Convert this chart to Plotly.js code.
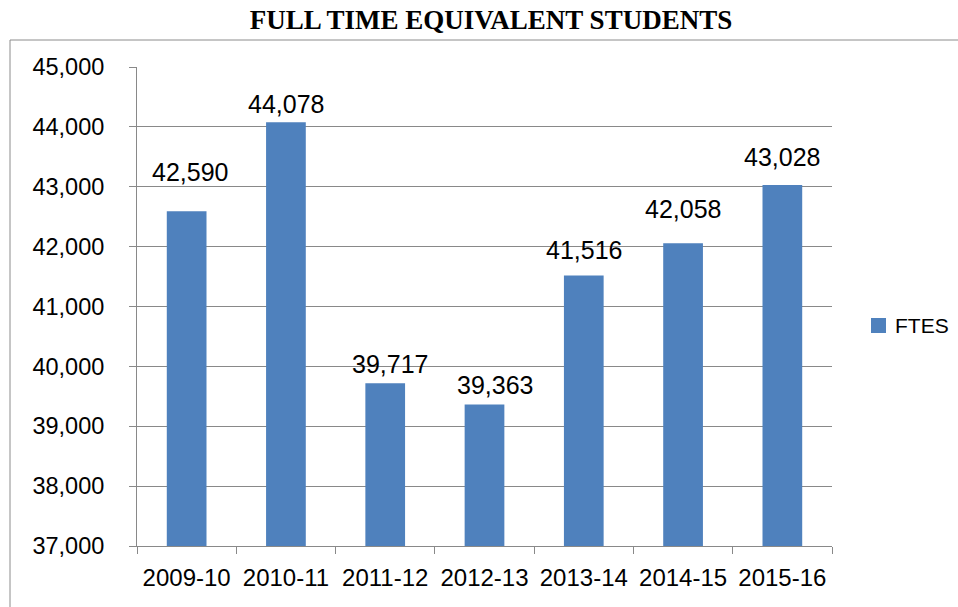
<!DOCTYPE html>
<html>
<head>
<meta charset="utf-8">
<script src="https://cdn.plot.ly/plotly-3.0.1.min.js"></script>
<style>
  html, body { margin: 0; padding: 0; background: #ffffff; }
  #chart { width: 958px; height: 607px; }
</style>
</head>
<body>
<div id="chart"></div>
<script>
// ---- data ----
const years = ["2009-10", "2010-11", "2011-12", "2012-13", "2013-14", "2014-15", "2015-16"];
const ftes = [42590, 44078, 39717, 39363, 41516, 42058, 43028];
const seriesName = "FTES";
const chartTitle = "FULL TIME EQUIVALENT STUDENTS";
const yTickValues = [37000, 38000, 39000, 40000, 41000, 42000, 43000, 44000, 45000];

// ---- styling / layout ----
const barColor = "#4F81BD";
const gridColor = "#898989";
const sansFont = "Liberation Sans, Arial, sans-serif";
const labelYShift = [25, 4, 5, 6, 12, 20, 14];
const labelXShift = [3, 0, 5, 10, 0, 0, 0];

// plot-area geometry in pixels (for converting to paper coordinates)
const PL = 137, PR = 832, PT = 67, PB = 546;
const px = v => (v - PL) / (PR - PL);
const py = v => (PB - v) / (PB - PT);

const fmt = v => v.toLocaleString("en-US");

const trace = {
  type: "bar",
  x: years,
  y: ftes,
  name: seriesName,
  marker: { color: barColor, line: { width: 0 } },
  hoverinfo: "x+y",
  showlegend: false
};

const annotations = years.map((yr, i) => ({
  x: yr,
  y: ftes[i],
  xref: "x",
  yref: "y",
  text: fmt(ftes[i]),
  showarrow: false,
  xanchor: "center",
  yanchor: "bottom",
  yshift: labelYShift[i] - 2,
  xshift: labelXShift[i],
  font: { family: sansFont, size: 25, color: "#000000" }
}));

// legend entry (series name) drawn as text next to a colour swatch
annotations.push({
  xref: "paper",
  yref: "paper",
  x: px(893),
  y: py(325),
  xanchor: "left",
  yanchor: "middle",
  text: seriesName,
  showarrow: false,
  font: { family: sansFont, size: 21, color: "#000000" }
});

const layout = {
  width: 958,
  height: 607,
  paper_bgcolor: "#ffffff",
  plot_bgcolor: "#ffffff",
  margin: { l: PL, r: 958 - PR, t: PT, b: 607 - PB, pad: 0 },
  title: {
    text: "<b>" + chartTitle + "</b>",
    font: { family: "Liberation Serif, Times New Roman, serif", size: 27, color: "#000000" },
    x: 0.5125,
    xanchor: "center",
    y: 1 - 20 / 607,
    yanchor: "middle"
  },
  bargap: 0.6,
  showlegend: false,
  xaxis: {
    type: "category",
    automargin: false,
    tickangle: 0,
    showgrid: false,
    showline: true,
    linecolor: gridColor,
    linewidth: 1,
    ticks: "outside",
    tickson: "boundaries",
    ticklen: 7,
    tickcolor: gridColor,
    tickwidth: 1,
    ticklabelstandoff: 10,
    tickfont: { family: sansFont, size: 24, color: "#000000" },
    fixedrange: true
  },
  yaxis: {
    range: [37000, 45000],
    automargin: false,
    tickvals: yTickValues,
    ticktext: yTickValues.map(fmt),
    showgrid: true,
    gridcolor: gridColor,
    gridwidth: 1,
    zeroline: false,
    showline: true,
    linecolor: gridColor,
    linewidth: 1,
    ticks: "outside",
    ticklen: 7,
    tickcolor: gridColor,
    tickwidth: 1,
    ticklabelstandoff: 20,
    tickfont: { family: sansFont, size: 23.5, color: "#000000" },
    fixedrange: true
  },
  annotations: annotations,
  shapes: [
    {
      type: "rect",
      xref: "paper",
      yref: "paper",
      x0: px(10),
      x1: px(965),
      y0: py(615),
      y1: py(40),
      line: { color: "#8c8c8c", width: 1 },
      fillcolor: "rgba(0,0,0,0)",
      layer: "below"
    },
    {
      type: "rect",
      xref: "paper",
      yref: "paper",
      x0: px(871),
      x1: px(886),
      y0: py(333),
      y1: py(318),
      line: { width: 0 },
      fillcolor: barColor,
      layer: "above"
    }
  ]
};

Plotly.newPlot("chart", [trace], layout, { displayModeBar: false, staticPlot: true });
</script>
</body>
</html>
